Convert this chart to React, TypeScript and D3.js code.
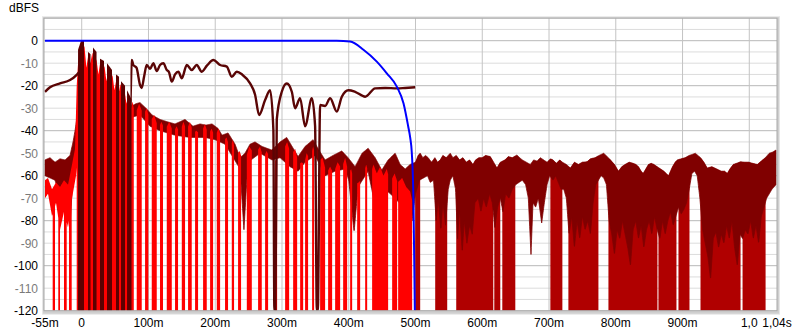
import React, { useLayoutEffect } from "react";
import * as d3 from "d3";

// ---------- axes ----------
const yTicks = [0, -10, -20, -30, -40, -50, -60, -70, -80, -90, -100, -110, -120];
const xTicks = [0, 100, 200, 300, 400, 500, 600, 700, 800, 900, 1000];
const xTickLabels = ["0", "100m", "200m", "300m", "400m", "500m", "600m", "700m", "800m", "900m", "1,0"];
const xEndLabels = ["-55m", "1,04s"];

// ---------- window (blue) : time ms, dBFS ----------
const windowT = [-55, 382, 402, 422, 442, 457, 472, 482, 489, 492, 494.5, 497, 499];
const windowDb = [0, 0, -0.4, -4, -9.3, -14.5, -20.4, -27.8, -38, -43, -50, -72, -120];

// ---------- smoothed envelope line ----------
const lineT = [-55, -47.5, -32.5, -17.5, -7.5, -4, 5, 20, 35, 50, 65, 72.5, 75,
  77.3, 82, 87.4, 89.9, 93.4, 97.4, 102.4, 107.3, 112.4, 117.3, 122.3, 127.4, 130.8, 134.9, 139.8, 144.8, 149.9,
  157.4, 164.8, 172.3, 179.8, 187.8, 197.2, 207.3, 217.3, 224.8, 232.3, 240.2, 252.2, 259.7, 265.7, 274.7,
  282.2, 287.1, 288.6, 290.1, 292.2, 299.7, 307.2, 314.7, 319.6, 327.1, 334.6, 344.7, 349.6, 352.2, 353.7,
  357.1, 364.6, 372.1, 382.1, 389.6, 399.5, 409.6, 424.6, 439.5, 454.5, 472.1, 484.5, 499.5];
const lineDb = [-22.7, -20.7, -19, -17.5, -15.2, -14, -13, -16, -20, -24, -28, -30, -8.6,
  -10.8, -12, -19.7, -21, -16, -10.8, -12.5, -10, -13.5, -10.8, -10, -13, -14, -18.2, -15, -13.8, -16.7,
  -10.8, -13, -10.8, -13.8, -11, -8.6, -10.8, -11.5, -16, -13.8, -15, -19, -24, -33, -26.4,
  -22, -39.7, -120, -120, -35, -22.7, -19, -22.7, -30, -25.6, -38, -25.6, -38, -120, -120,
  -28.6, -29, -25.6, -31.5, -24.9, -22, -22.7, -24.9, -21.2, -21, -21.2, -21, -20.7];

// ---------- dark red band (full length) ----------
const darkUpT = [-55, -47.5, -40, -32.5, -25, -17.5, -13, -10, -7, -5.5, 0, 30, 75, 81.3, 87.3, 96.3, 105.3, 117.3,
  127.8, 139.8, 154.7, 166.7, 177.2, 186.2, 195.2, 204.2, 210.2, 219.2, 229.7, 237.2, 244.6, 252.1, 259.6, 270.1,
  284.6, 297.1, 307.1, 315.1, 324.1, 334.6, 346.6, 354.1, 364.6, 376.5, 389.6, 399, 409.5, 420, 429, 439.5, 449.5,
  459, 469.5, 477, 484.5, 492,
  500, 504, 507, 511, 515, 519, 524, 529, 533, 537, 541, 546, 552, 556, 561, 566, 571, 576, 581, 586, 590, 595,
  600, 605, 612, 617, 622, 627, 634, 639, 645, 652, 656, 660, 666, 672, 677, 682, 687, 692, 697, 702, 706, 711,
  716, 720, 726, 732, 738, 744, 750, 757, 762, 769, 775, 782, 787, 792, 798, 804, 809, 814, 820, 826, 830, 834,
  838, 841, 845, 849, 853, 857, 862, 867, 872, 879, 882, 885, 889, 892, 898, 904, 910, 915, 919, 923, 927, 932,
  937, 944, 951, 958, 963, 967, 971, 976, 981, 987, 993, 999, 1005, 1012, 1018, 1024, 1030, 1035, 1040];
const darkUpDb = [-53, -52, -54, -52.5, -53, -51, -45, -40, -34, -30, -25, -25, -29, -28, -27.5, -30, -33, -35,
  -36, -37, -35, -38, -37, -37.5, -37, -39, -42, -41, -46, -52, -50, -46, -45, -47,
  -48.6, -45, -43, -47, -51.5, -47, -44, -48, -53, -51, -49, -52, -56, -50, -47.8, -52, -57.5,
  -53, -50, -55, -57, -55,
  -54, -51, -50, -52, -51, -52, -54, -52, -54, -53, -51, -52, -50, -52, -51, -53, -52, -54, -53, -55, -53, -52,
  -52, -51, -51.5, -54, -56.6, -54, -53, -51.5, -52, -50.8, -52, -53, -54, -55, -53, -53.5, -52, -53, -54, -52.5, -53, -54.5,
  -53, -54, -55, -56.6, -54, -55, -54, -53.8, -52.5, -52, -51, -50, -51.5, -53, -55, -58, -56, -55, -54, -54.5, -55, -56,
  -58, -59, -57, -55, -54.5, -55, -56, -57, -58, -60, -58, -56, -54, -53, -52.5, -52, -51, -50.5, -50, -51, -52, -54,
  -56.6, -56, -57, -58, -58, -59, -57, -55, -54.5, -53.8, -54, -54, -54.5, -55, -53.5, -52, -50, -49.5, -48.6];
const darkLoT = [-55, -40, -31, -26.5, -17.5, -13, -8.5, -2.5, 27.4, 57.4, 75.4, 87.3, 102.3, 117.3, 139.8, 162.2,
  184.7, 199.7, 214.7, 237.2, 243, 249, 267.1, 285.1, 297.1, 312.1, 324.1, 334.6, 349.6, 364.6, 379.5, 394.5,
  400, 408, 414, 429, 444, 454.5, 469.5, 484.5, 495,
  500, 506, 512, 518, 522, 527, 531, 534, 538, 541, 545, 549, 552, 556, 560, 563, 566, 570, 573, 577, 581, 585,
  589, 594, 598, 602, 606, 611, 615, 619, 623, 627, 631, 635, 640, 645, 650, 655, 660, 665, 669, 673, 676, 680,
  684, 689, 693, 697, 701, 706, 710, 714, 718, 722, 726, 730, 734, 738, 742, 746, 750, 754, 758, 762, 766, 770,
  774, 778, 782, 786, 790, 794, 798, 802, 806, 810, 814, 818, 822, 826, 830, 834, 838, 842, 846, 850, 854, 858,
  862, 866, 870, 874, 878, 882, 886, 890, 894, 898, 902, 906, 910, 914, 918, 922, 926, 930, 934, 938, 942, 946,
  950, 954, 958, 962, 966, 970, 974, 978, 982, 986, 990, 994, 998, 1002, 1006, 1010, 1014, 1018, 1022, 1026,
  1030, 1034, 1040];
const darkLoDb = [-60, -62, -71, -62, -82, -60, -50, -40, -40, -40, -34, -33, -38, -40, -42, -43,
  -43, -44, -46, -57, -84, -54, -50, -53, -52, -56, -58, -54, -51, -60, -58, -57,
  -62, -85, -65, -58, -80, -66, -70, -75, -80,
  -68, -62, -61, -60, -63, -62, -80, -70, -84, -72, -82, -66, -62, -60, -66, -88, -75, -94, -80, -90, -82, -86,
  -72, -70, -76, -70, -74, -68, -72, -83, -74, -70, -76, -68, -70, -66, -64, -63, -62, -64, -70, -95, -72, -74,
  -70, -81, -72, -64, -60, -62, -60, -63, -66, -66, -70, -86, -78, -92, -80, -88, -78, -84, -80, -86, -72, -64,
  -62, -60, -61, -64, -80, -86, -95, -84, -88, -80, -86, -92, -100, -84, -80, -88, -82, -92, -84, -80, -86, -78,
  -84, -88, -80, -86, -80, -76, -82, -78, -74, -77, -75, -72, -66, -59, -58, -60, -70, -84, -90, -96, -106, -88,
  -85, -92, -86, -90, -82, -88, -80, -92, -100, -86, -88, -84, -86, -80, -88, -82, -90, -78, -74, -70,
  -68, -66, -64];

// medium red deep notches after the window (ms intervals)
const midStripes: [number, number][] = [[499.5, 507], [529.5, 547.5], [561, 616.5], [618, 627], [630, 649.5],
  [702, 720], [729, 774], [789, 862.4], [863.9, 890.9], [893.9, 910.4], [926.9, 986.9], [989.9, 1024.4]];

// ---------- bright red impulse (-55 .. 500 ms) ----------
const redUpT = [-55, -50.5, -44.5, -38.5, -32.5, -26.5, -20.5, -14.5, -10, -7.5, -5.5, -2, 1, 4, 7, 10, 13, 16, 19,
  22, 25, 28, 31, 34, 37, 40, 43, 46, 49, 52, 55, 58, 61, 64, 67, 70, 73, 76,
  80, 86, 92.4, 97.4, 102.4, 108.6, 114.8, 119.5, 124.6, 131, 137.4, 142, 147, 152.3, 157, 162, 167.3, 172, 178,
  184.5, 189.8, 194.5, 199.5, 204.8, 211, 217, 222, 226.5, 231.2, 236.5, 243, 251, 259.5, 267, 272.2, 277, 284.5,
  291.2, 298.7, 307.7, 313.7, 319.7, 325, 329.5, 333.2, 336.9, 342.1, 346.6, 352.6, 360.8, 366.8, 372.1, 377.3,
  383.3, 389.3, 394.6, 399.8, 403.6, 408.8, 414.8, 420.8, 426.1, 431.3, 437, 442, 447, 452, 457, 462, 468.7, 473.2,
  480, 486, 492, 495, 499.5];
const redUpDb = [-62, -61, -66, -63, -65, -62, -64, -55, -48, -20, -10, -3, -8, -2, -12, -6, -10, -5, -14,
  -8, -15, -9, -16, -11, -18, -13, -20, -15, -22, -17, -24, -19, -26, -22, -28, -24, -30, -27,
  -33, -28, -33, -30, -36, -33, -39, -36, -40, -36, -41, -38, -41, -36, -40, -36, -41, -40, -42,
  -37, -42, -39, -43, -39, -45, -43, -48, -44, -51, -49, -55, -47, -51, -47, -52, -49, -54,
  -53, -51, -45, -51, -48, -55, -54, -55, -50, -53, -47, -54, -52, -59, -56, -59,
  -54, -57, -52, -59, -57, -64, -63, -61, -55, -61, -55, -59, -56, -60, -57, -63, -59, -63,
  -61, -65, -67, -71, -75];
const redLoT = [-55, -50.5, -44.5, -38.5, -32.5, -26.5, -20.5, -14.5, -8.5, 0, 75, 499.5];
const redLoDb = [-70, -68, -78, -72, -84, -76, -83, -70, -60, -30, 0, 0];
const redStripes: [number, number][] = [[-43.5, -40], [-35.1, -32.5], [-26.5, -22.5], [-19, -15], [-7.5, 78],
  [82.4, 89.9], [94.9, 99.8], [104.9, 112.4], [117.3, 121.8], [127.4, 134.9], [139.8, 144.3], [149.9, 154.8],
  [159.3, 164.8], [169.8, 174.3], [181.8, 187.3], [192.3, 196.8], [202.3, 207.3], [214.7, 219.2], [224.8, 228.2],
  [234.2, 238.7], [247.3, 254.8], [264.2, 269.7], [274.7, 279.2], [289.7, 292.7], [304.7, 310.7], [316.7, 322.7],
  [327.2, 331.7], [334.6, 339.1], [345.1, 348.1], [357.1, 364.6], [369.1, 375.1], [379.6, 387.1], [391.6, 397.6],
  [402.1, 405.1], [412.6, 417.1], [424.6, 427.6], [435, 459], [465, 472.5], [474, 495]];

// ---------- very dark direct-sound spikes ----------
const peakUpT = [-5.5, -1, 3.4, 9.4, 13.2, 16.9, 22.2, 27.4, 33.4, 37.9, 45.4, 51.4, 55.9, 58.9, 64.9, 67.9, 74.6];
const peakUpDb = [-4, 0, 0, -5, -6, -3, -5, -8, -9, -10, -13, -15, -16, -18, -20, -22, -26];
const peakStripes: [number, number][] = [[-5.5, 3.4], [9.4, 13.2], [16.9, 22.2], [27.4, 33.4], [37.9, 45.4],
  [51.4, 55.9], [58.9, 64.9], [67.9, 74.6]];

type Pt = [number, number, number];

function bandPath(
  t0: number, t1: number,
  upT: number[], upV: number[],
  loT: number[] | null, loV: number[] | null,
  stripes: [number, number][],
  x: d3.ScaleLinear<number, number>, y: d3.ScaleLinear<number, number>
) {
  const up = d3.scaleLinear().domain(upT).range(upV).clamp(true);
  const lo = loT && loV ? d3.scaleLinear().domain(loT).range(loV).clamp(true) : up;
  const ev: { t: number; k: string }[] = d3.range(t0, t1, 0.4).map((t) => ({ t, k: "g" }));
  ev.push({ t: t1, k: "g" });
  stripes.forEach(([a, b]) => {
    if (b < t0 || a > t1) return;
    ev.push({ t: Math.max(a, t0), k: "s" });
    ev.push({ t: Math.min(b, t1), k: "e" });
  });
  ev.sort((p, q) => p.t - q.t || (p.k === "e" ? -1 : 1));
  const inStripe = (t: number) => stripes.some(([a, b]) => t > a && t < b);
  const pts: Pt[] = [];
  ev.forEach(({ t, k }) => {
    const u = up(t);
    const l = Math.min(lo(t), u);
    if (k === "s") { pts.push([t, u, l]); pts.push([t, u, -120]); }
    else if (k === "e") { pts.push([t, u, -120]); pts.push([t, u, l]); }
    else pts.push([t, u, inStripe(t) ? -120 : l]);
  });
  return d3.area<Pt>().x((d) => x(d[0])).y0((d) => y(d[2])).y1((d) => y(d[1]))(pts) || "";
}

export default function App() {
  useLayoutEffect(() => {
    document.body.style.margin = "0";
  }, []);

  const L = 45, R = 776, T = 18.2, B = 310.7;
  const x = d3.scaleLinear().domain([-55, 1040]).range([L, R]);
  const y = d3.scaleLinear().domain([-120, 10]).range([B, T]);

  const hGrid = d3.range(-115, 10, 5);

  const midPath = bandPath(499.5, 1040, darkUpT, darkUpDb, null, null, midStripes, x, y);
  const darkPath = bandPath(-55, 1040, darkUpT, darkUpDb, darkLoT, darkLoDb, [], x, y);
  const redPath = bandPath(-55, 499.5, redUpT, redUpDb, redLoT, redLoDb, redStripes, x, y);
  const peakPath = bandPath(-5.5, 74.6, peakUpT, peakUpDb, null, null, peakStripes, x, y);

  const line = d3.line<[number, number]>().x((d) => x(d[0])).y((d) => y(d[1])).curve(d3.curveMonotoneX);
  const smooth = line(lineT.map((t, i) => [t, lineDb[i]] as [number, number])) || "";
  const win = line(windowT.map((t, i) => [t, windowDb[i]] as [number, number])) || "";

  const font = "'Liberation Sans', Arial, sans-serif";

  return (
    <svg width={800} height={334} style={{ position: "absolute", left: 0, top: 0, background: "#fff" }}
      fontFamily={font} fontSize={12}>
      <defs>
        <clipPath id="plot">
          <rect x={L - 1} y={T} width={R - L + 2} height={B - T} />
        </clipPath>
        <clipPath id="lineclip">
          <rect x={L - 1} y={T} width={x(-5) - L + 1} height={B - T} />
          <rect x={x(73)} y={T} width={R - x(73) + 1} height={B - T} />
        </clipPath>
      </defs>
      <text x={9} y={12} fill="#000">dBFS</text>

      {/* frame shadow */}
      <rect x={L - 3} y={T - 2} width={R - L + 7} height={B - T + 6} fill="#e6e6e6" />
      <rect x={L - 2} y={T - 1} width={R - L + 5} height={B - T + 4} fill="#cfcfcf" />
      <rect x={L - 1} y={T} width={R - L + 2} height={B - T} fill="#fff" />

      {/* grid */}
      {hGrid.map((v) => (
        <line key={"h" + v} x1={L - 1} x2={R + 1} y1={y(v)} y2={y(v)}
          stroke={v % 20 === 0 ? "#b8b8b8" : "#dcdcdc"} strokeWidth={1} />
      ))}
      {xTicks.map((v) => (
        <line key={"v" + v} x1={x(v)} x2={x(v)} y1={T} y2={B} stroke="#c4c4c4" strokeWidth={1} />
      ))}

      <g clipPath="url(#plot)">
        <path d={midPath} fill="#b00000" />
        <path d={darkPath} fill="#800000" stroke="#800000" strokeWidth={0.8} />
        <path d={redPath} fill="#ff0000" />
        <path d={peakPath} fill="#5c0000" />
        <g clipPath="url(#lineclip)">
          <path d={smooth} fill="none" stroke="#5a0505" strokeWidth={2.4} strokeLinejoin="round" />
        </g>
        <path d={win} fill="none" stroke="#0000ff" strokeWidth={2} />
      </g>

      {/* frame border */}
      <rect x={L - 1} y={T} width={R - L + 2} height={B - T} fill="none" stroke="#a8a8a8" strokeWidth={1} />

      {/* y labels */}
      {yTicks.map((v) => (
        <text key={"yl" + v} x={38} y={y(v) + 4.5} textAnchor="end"
          fill={v % 20 === 0 ? "#000" : "#7a7a7a"}>{v}</text>
      ))}
      {/* x labels */}
      {xTicks.map((v, i) => (
        <text key={"xl" + v} x={x(v)} y={327} textAnchor="middle" fill="#000">{xTickLabels[i]}</text>
      ))}
      <text x={x(-55)} y={327} textAnchor="middle" fill="#000">{xEndLabels[0]}</text>
      <text x={x(1040) + 1} y={327} textAnchor="middle" fill="#000">{xEndLabels[1]}</text>
    </svg>
  );
}
